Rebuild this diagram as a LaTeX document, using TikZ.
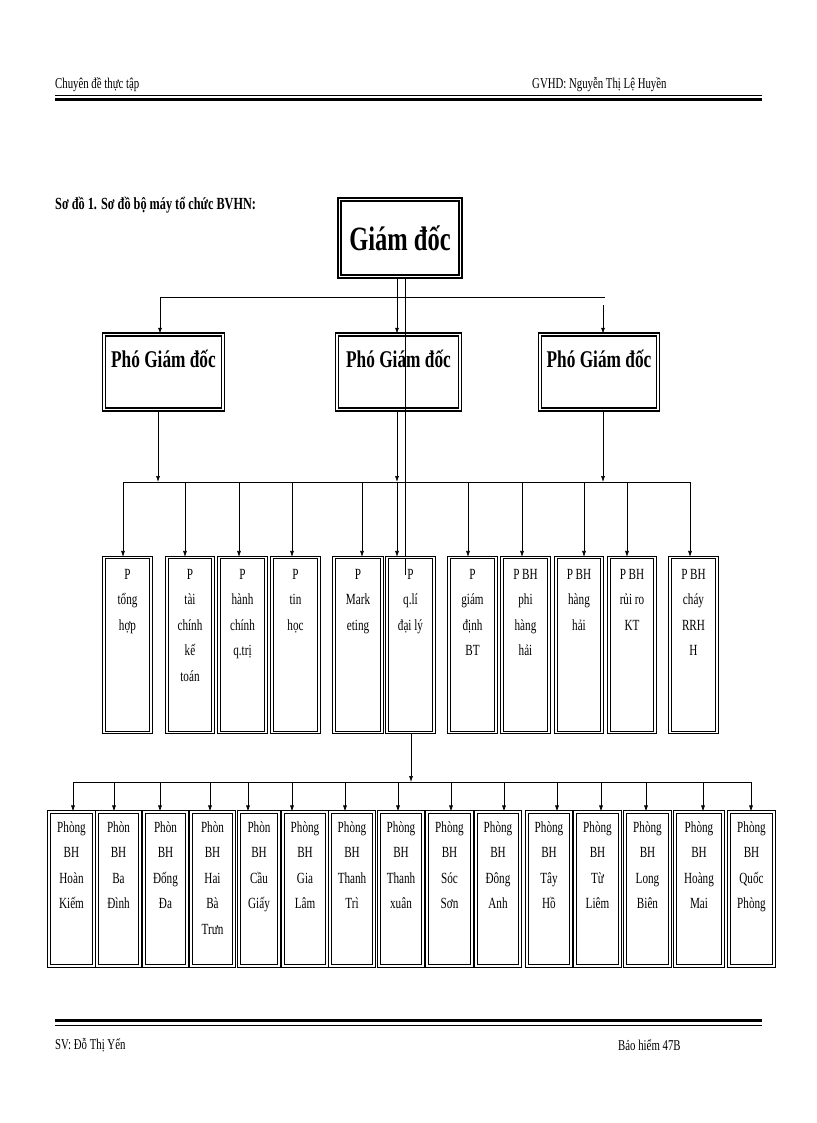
\documentclass[tikz,border=0pt]{standalone}
\usepackage{fontspec}
\setmainfont{Liberation Serif}
\newfontfamily\cond[FakeStretch=0.72]{Liberation Serif}
\usetikzlibrary{arrows.meta}
\tikzset{
  bx/.style={draw, line width=1.1pt, double=white, double distance=1.4pt, inner sep=0pt},
  lbl/.style={anchor=north, align=center, inner sep=0pt, font=\cond\fontsize{15.5}{25.5}\selectfont},
  ar/.style={-{Latex[length=6pt,width=4pt]}, line width=0.6pt},
  ln/.style={line width=0.6pt},
  hdr/.style={font=\cond\fontsize{15}{16}\selectfont, inner sep=0pt}
}
\begin{document}
\begin{tikzpicture}[x=1pt,y=-1pt]
\useasboundingbox (0,0) rectangle (816,1123);
% header
\node[hdr, anchor=west] (h1) at (55,85) {Chuyên đề thực tập};
\node[hdr, anchor=west] (h2) at (532,85) {GVHD: Nguyễn Thị Lệ Huyền};
\draw[line width=0.6pt] (55,95) -- (762,95);
\draw[line width=3pt] (55,99.5) -- (762,99.5);
% footer
\draw[line width=3pt] (55,1020) -- (762,1020);
\draw[line width=0.6pt] (55,1025) -- (762,1025);
\node[hdr, anchor=west] (f1) at (55,1045) {SV: Đỗ Thị Yến};
\node[hdr, anchor=west] (f2) at (618,1045) {Bảo hiểm 47B};
% title
\node[anchor=west, inner sep=0pt, font=\cond\bfseries\fontsize{17}{18}\selectfont] (title) at (55,205) {Sơ đồ 1. Sơ đồ bộ máy tổ chức BVHN:};
% director
\node[bx, line width=1.6pt, minimum width=121pt, minimum height=77pt, font=\cond\bfseries\fontsize{34}{36}\selectfont] (gd) at (400,238) {Giám đốc};
\foreach \n/\xa/\xb in {pl/104/223, pm/337/460, pr/540/658}{
  \node[bx, line width=1.5pt, minimum width=\xb-\xa, minimum height=75pt, font=\cond\bfseries\fontsize{24}{26}\selectfont, text depth=26pt] (\n) at ({(\xa+\xb)/2},372) {Phó Giám đốc};
}
\draw[ln] (160,297) -- (605,297);
\draw[ar] (160,297) -- (pl.north -| 160,0);
\draw[ar] (603,305) -- (pr.north -| 603,0);
\draw[ar] (gd.south -| 397,0) -- (pm.north -| 397,0);
\draw[ln] (gd.south -| 405,0) -- (405,575);
% second level
\draw[ln] (123,482) -- (690,482);
\draw[ar] (pl.south -| 158,0) -- (158,482);
\draw[ar] (pm.south -| 397,0) -- (397,482);
\draw[ar] (pr.south -| 603,0) -- (603,482);
\foreach \n/\xa/\xb/\d/\t in {
 s1/104/151/123/{P\\tổng\\hợp},
 s2/167/213/185/{P\\tài\\chính\\kế\\toán},
 s3/219/266/239/{P\\hành\\chính\\q.trị},
 s4/272/319/292/{P\\tin\\học},
 s5/334/382/362/{P\\Mark\\eting},
 s6/387/434/397/{P\\q.lí\\đại lý},
 s7/449/496/468/{P\\giám\\định\\BT},
 s8/502/549/522/{P BH\\phi\\hàng\\hải},
 s9/556/602/584/{P BH\\hàng\\hải},
 s10/609/655/627/{P BH\\rủi ro\\KT},
 s11/670/717/690/{P BH\\cháy\\RRH\\H}}{
  \node[bx, minimum width=\xb-\xa, minimum height=175pt] (\n) at ({(\xa+\xb)/2},645) {};
  \node[lbl] (\n t) at ([yshift=-12pt]\n.north) {\t};
  \draw[ar] (\d,482) -- (\n.north -| \d,0);
}
% third level
\draw[ar] (s6.south -| 411,0) -- (411,782);
\draw[ln] (73,782) -- (751,782);
\foreach \n/\xa/\xb/\d/\t in {
 b1/49/94/73/{Phòng\\BH\\Hoàn\\Kiếm},
 b2/97/140/114/{Phòn\\BH\\Ba\\Đình},
 b3/144/187/160/{Phòn\\BH\\Đống\\Đa},
 b4/191/234/210/{Phòn\\BH\\Hai\\Bà\\Trưn},
 b5/239/279/248/{Phòn\\BH\\Cầu\\Giấy},
 b6/283/327/292/{Phòng\\BH\\Gia\\Lâm},
 b7/330/374/345/{Phòng\\BH\\Thanh\\Trì},
 b8/379/423/398/{Phòng\\BH\\Thanh\\xuân},
 b9/427/472/451/{Phòng\\BH\\Sóc\\Sơn},
 b10/476/520/504/{Phòng\\BH\\Đông\\Anh},
 b11/527/571/557/{Phòng\\BH\\Tây\\Hồ},
 b12/575/620/601/{Phòng\\BH\\Từ\\Liêm},
 b13/625/670/646/{Phòng\\BH\\Long\\Biên},
 b14/675/723/703/{Phòng\\BH\\Hoàng\\Mai},
 b15/729/774/751/{Phòng\\BH\\Quốc\\Phòng}}{
  \node[bx, minimum width=\xb-\xa, minimum height=154pt] (\n) at ({(\xa+\xb)/2},889) {};
  \node[lbl] (\n t) at ([yshift=-10pt]\n.north) {\t};
  \draw[ar] (\d,782) -- (\n.north -| \d,0);
}
\end{tikzpicture}
\end{document}
